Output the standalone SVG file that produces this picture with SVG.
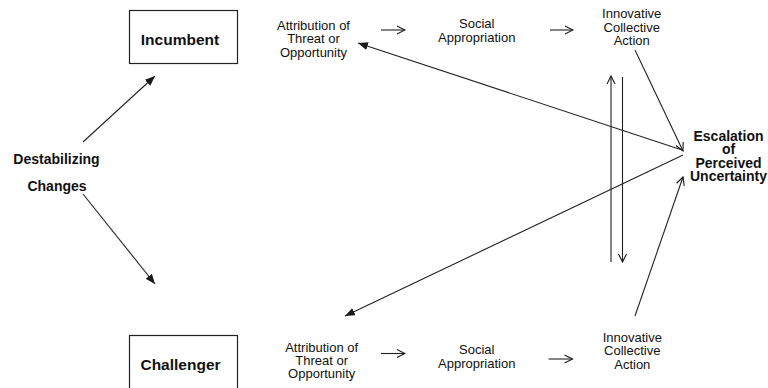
<svg xmlns="http://www.w3.org/2000/svg" width="768" height="388" viewBox="0 0 768 388">
  <defs>
    <marker id="solid" viewBox="0 0 10 8" refX="10" refY="4" markerWidth="10" markerHeight="8" markerUnits="userSpaceOnUse" orient="auto">
      <path d="M0,0 L10,4 L0,8 Z" fill="#1a1a1a"/>
    </marker>
    <marker id="open" viewBox="0 0 10 10" refX="9" refY="5" markerWidth="10" markerHeight="10" markerUnits="userSpaceOnUse" orient="auto">
      <path d="M1,1 L9,5 L1,9" fill="none" stroke="#1a1a1a" stroke-width="1.1"/>
    </marker>
    <style>
      .lbl { font-family: "Liberation Sans", Arial, Helvetica, sans-serif; fill: #111; text-anchor: middle; }
      .reg { font-size: 13px; }
      .bold { font-weight: bold; font-size: 14px; }
      .box-lbl { font-weight: bold; font-size: 15.5px; }
      .box { fill: #fff; stroke: #222; stroke-width: 1.2; }
      .edge { fill: none; stroke: #222; stroke-width: 1.1; }
      .filled { marker-end: url(#solid); }
      .chev { marker-end: url(#open); }
    </style>
  </defs>

  <rect width="768" height="388" fill="#fff"/>

  <!-- connectors -->
  <g id="connectors">
    <line class="edge filled" x1="83" y1="142" x2="155" y2="76"/>
    <line class="edge filled" x1="83" y1="194" x2="155" y2="284"/>

    <line class="edge chev" x1="381" y1="30" x2="405" y2="30"/>
    <line class="edge chev" x1="550" y1="30" x2="573" y2="30"/>
    <line class="edge chev" x1="381" y1="353.5" x2="405" y2="353.5"/>
    <line class="edge chev" x1="548.5" y1="359" x2="572.5" y2="359"/>

    <line class="edge chev" x1="635" y1="50" x2="683" y2="151"/>
    <line class="edge chev" x1="635" y1="316" x2="683" y2="177"/>

    <line class="edge filled" x1="682" y1="150" x2="358" y2="43"/>
    <line class="edge filled" x1="683" y1="155" x2="345" y2="316"/>

    <line class="edge chev" x1="611" y1="262" x2="611" y2="76"/>
    <line class="edge chev" x1="622.5" y1="77" x2="622.5" y2="262"/>
  </g>

  <!-- nodes -->
  <g id="destabilizing">
    <text class="lbl bold" x="56.5" y="163.5">Destabilizing</text>
    <text class="lbl bold" x="57" y="190.5">Changes</text>
  </g>

  <g id="incumbent">
    <rect class="box" x="129.5" y="10.5" width="108" height="53"/>
    <text class="lbl box-lbl" x="180" y="45">Incumbent</text>
  </g>

  <g id="challenger">
    <rect class="box" x="129.5" y="335.5" width="108" height="60"/>
    <text class="lbl box-lbl" x="180.5" y="369.5">Challenger</text>
  </g>

  <g id="inc-attribution">
    <text class="lbl reg" x="313.5" y="30">Attribution of</text>
    <text class="lbl reg" x="313.5" y="43.3">Threat or</text>
    <text class="lbl reg" x="313.5" y="56.6">Opportunity</text>
  </g>

  <g id="inc-appropriation">
    <text class="lbl reg" x="476.7" y="28">Social</text>
    <text class="lbl reg" x="476.7" y="41.5">Appropriation</text>
  </g>

  <g id="inc-action">
    <text class="lbl reg" x="631.7" y="18.3">Innovative</text>
    <text class="lbl reg" x="631.7" y="31.6">Collective</text>
    <text class="lbl reg" x="631.7" y="44.9">Action</text>
  </g>

  <g id="escalation">
    <text class="lbl bold" x="728.5" y="141">Escalation</text>
    <text class="lbl bold" x="728.5" y="154.3">of</text>
    <text class="lbl bold" x="728.5" y="167.6">Perceived</text>
    <text class="lbl bold" x="728.5" y="180.9">Uncertainty</text>
  </g>

  <g id="chal-attribution">
    <text class="lbl reg" x="321.7" y="351.7">Attribution of</text>
    <text class="lbl reg" x="321.7" y="365">Threat or</text>
    <text class="lbl reg" x="321.7" y="378.3">Opportunity</text>
  </g>

  <g id="chal-appropriation">
    <text class="lbl reg" x="476.7" y="354">Social</text>
    <text class="lbl reg" x="476.7" y="367.5">Appropriation</text>
  </g>

  <g id="chal-action">
    <text class="lbl reg" x="632.3" y="341.7">Innovative</text>
    <text class="lbl reg" x="632.3" y="355.3">Collective</text>
    <text class="lbl reg" x="632.3" y="368.9">Action</text>
  </g>
</svg>
